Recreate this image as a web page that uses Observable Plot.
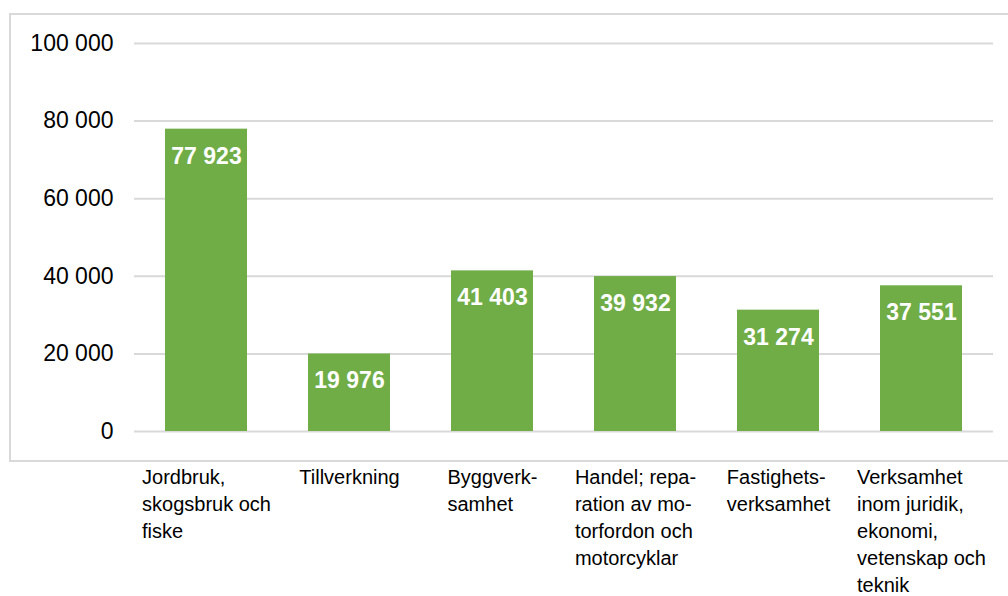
<!DOCTYPE html>
<html>
<head>
<meta charset="utf-8">
<script src="https://cdn.jsdelivr.net/npm/d3@7"></script>
<script src="https://cdn.jsdelivr.net/npm/@observablehq/plot@0.6"></script>
<style>
  html, body { margin: 0; padding: 0; background: #fff; overflow: hidden; }
  #wrap { position: relative; width: 1008px; height: 596px; }
  #box { position: absolute; left: 9px; top: 13px; width: 1010px; height: 445px; border: 2px solid #d9d9d9; box-sizing: content-box; }
  #chart { position: absolute; left: 0; top: 0; }
</style>
</head>
<body>
<div id="wrap"><div id="box"></div><div id="chart"></div></div>
<script>
const categories = [
  "Jordbruk,\nskogsbruk och\nfiske",
  "Tillverkning",
  "Byggverk-\nsamhet",
  "Handel; repa-\nration av mo-\ntorfordon och\nmotorcyklar",
  "Fastighets-\nverksamhet",
  "Verksamhet\ninom juridik,\nekonomi,\nvetenskap och\nteknik"
];
const values = [77923, 19976, 41403, 39932, 31274, 37551];
const yTicks = [0, 20000, 40000, 60000, 80000, 100000];

const data = categories.map((c, i) => ({cat: c, value: values[i]}));
const fmt = d3.formatLocale({decimal: ",", thousands: " ", grouping: [3], currency: ["", ""]}).format(",d");

const font = "Liberation Sans, Arial, sans-serif";
const ctx = document.createElement("canvas").getContext("2d");
ctx.font = "20px 'Liberation Sans'";
const widthOf = s => Math.max(...s.split("\n").map(l => ctx.measureText(l).width));

const labelMarks = categories.map(c => Plot.text([c], {
  x: d => d,
  text: d => d,
  frameAnchor: "bottom",
  textAnchor: "start",
  lineAnchor: "top",
  lineHeight: 1.35,
  dx: -widthOf(c) / 2,
  dy: 33,
  fontSize: 20,
  fill: "#000"
}));

const chart = Plot.plot({
  width: 1008,
  height: 596,
  marginLeft: 134,
  marginRight: 15,
  marginTop: 43,
  marginBottom: 165,
  style: {fontFamily: font, fontSize: "23px", color: "#000", background: "transparent", overflow: "visible"},
  x: {domain: categories, paddingInner: 0.43, paddingOuter: 0.215, axis: null},
  y: {domain: [0, 100000], ticks: yTicks, tickFormat: fmt, tickSize: 0, tickPadding: 21, label: null},
  marks: [
    Plot.gridY(yTicks, {stroke: "#d9d9d9", strokeOpacity: 1, strokeWidth: 2}),
    Plot.barY(data, {x: "cat", y: "value", fill: "#70ad47"}),
    Plot.text(data, {x: "cat", y: "value", text: d => fmt(d.value), fill: "#fff", fontWeight: "bold", fontSize: 23, dy: 27}),
    ...labelMarks
  ]
});
document.getElementById("chart").appendChild(chart);
</script>
</body>
</html>
